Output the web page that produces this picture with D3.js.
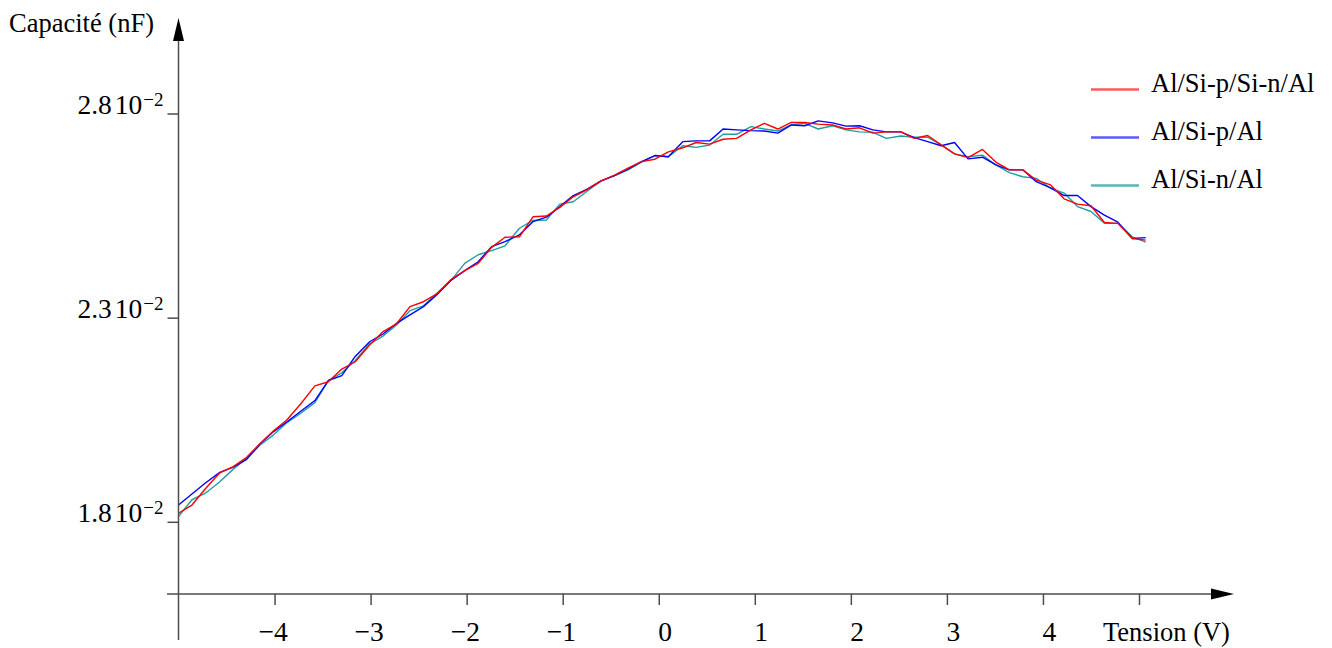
<!DOCTYPE html>
<html>
<head>
<meta charset="utf-8">
<script src="https://cdn.jsdelivr.net/npm/d3@7"></script>
<style>
  html, body { margin: 0; padding: 0; background: #fff; }
  svg { display: block; font-family: "Liberation Serif", "Times New Roman", serif; }
</style>
</head>
<body>
<svg id="chart" width="1332" height="648"></svg>
<script>
// Tension appliquée (V)
const tension = [-5.00,-4.86,-4.72,-4.57,-4.43,-4.29,-4.15,-4.01,-3.87,-3.72,
  -3.58,-3.44,-3.30,-3.16,-3.01,-2.87,-2.73,-2.59,-2.45,-2.31,
  -2.16,-2.02,-1.88,-1.74,-1.60,-1.45,-1.31,-1.17,-1.03,-0.89,
  -0.75,-0.60,-0.46,-0.32,-0.18,-0.04,0.10,0.25,0.39,0.53,
  0.67,0.81,0.96,1.10,1.24,1.38,1.52,1.66,1.81,1.95,
  2.09,2.23,2.37,2.52,2.66,2.80,2.94,3.08,3.22,3.37,
  3.51,3.65,3.79,3.93,4.08,4.22,4.36,4.50,4.64,4.78,
  4.93,5.07];

// Capacité mesurée, en unités de 10^-2 nF
const capaSiPSiN = [1.821,1.841,1.881,1.920,1.935,1.958,1.992,2.023,2.050,2.091,
  2.133,2.143,2.174,2.192,2.233,2.266,2.285,2.327,2.339,2.358,
  2.394,2.415,2.433,2.472,2.497,2.498,2.547,2.549,2.570,2.596,
  2.613,2.635,2.649,2.666,2.682,2.688,2.706,2.716,2.729,2.725,
  2.737,2.739,2.760,2.776,2.762,2.778,2.778,2.774,2.772,2.762,
  2.765,2.752,2.755,2.755,2.739,2.746,2.723,2.701,2.692,2.712,
  2.681,2.662,2.662,2.637,2.625,2.591,2.578,2.574,2.533,2.531,
  2.494,2.490];

const capaSiP = [1.841,1.868,1.895,1.921,1.934,1.953,1.991,2.021,2.045,2.072,
  2.097,2.146,2.158,2.205,2.241,2.260,2.286,2.307,2.327,2.356,
  2.392,2.415,2.437,2.474,2.486,2.503,2.535,2.546,2.572,2.599,
  2.614,2.635,2.648,2.664,2.682,2.697,2.694,2.731,2.733,2.733,
  2.762,2.760,2.758,2.757,2.752,2.772,2.770,2.782,2.777,2.769,
  2.770,2.760,2.755,2.755,2.741,2.731,2.721,2.729,2.689,2.693,
  2.674,2.662,2.662,2.633,2.618,2.599,2.599,2.572,2.551,2.534,
  2.494,2.496];

const capaSiN = [1.813,1.854,1.870,1.898,1.929,1.956,1.988,2.013,2.043,2.067,
  2.092,2.146,2.165,2.195,2.236,2.255,2.282,2.317,2.329,2.360,
  2.392,2.433,2.454,2.464,2.476,2.519,2.538,2.539,2.578,2.584,
  2.609,2.635,2.648,2.662,2.681,2.697,2.694,2.721,2.717,2.723,
  2.749,2.749,2.768,2.762,2.757,2.772,2.776,2.762,2.770,2.760,
  2.755,2.754,2.739,2.745,2.742,2.742,2.723,2.701,2.694,2.698,
  2.674,2.655,2.645,2.641,2.617,2.605,2.572,2.560,2.531,2.531,
  2.498,2.485];

const seriesNames = ["Al/Si-p/Si-n/Al", "Al/Si-p/Al", "Al/Si-n/Al"];
const xTicks = [-4, -3, -2, -1, 0, 1, 2, 3, 4, 5];
const xTickLabels = ["−4", "−3", "−2", "−1", "0", "1", "2", "3", "4", ""];
const yTicks = [1.8, 2.3, 2.8];
const yTickMantissas = ["1.8", "2.3", "2.8"];
const yExponent = "−2";

const svg = d3.select("#chart");
const axisColor = "#4d4d4d";
const fontSize = 26.5;
const tickFontSize = 27.5;

const x = d3.scaleLinear().domain([-5, 5]).range([178.5, 1139]);
const y = d3.scaleLinear().domain([1.8, 2.8]).range([521.8, 113.5]);

const x0 = x(-5);
const yAxisLevel = 594;

// Courbes
const series = [
  { name: seriesNames[2], values: capaSiN, color: "#1f9f9f" },
  { name: seriesNames[1], values: capaSiP, color: "#0000ff" },
  { name: seriesNames[0], values: capaSiPSiN, color: "#ff0000" }
];
const line = d3.line().x((d, i) => x(tension[i])).y(d => y(d));
svg.append("g").selectAll("path").data(series).join("path")
  .attr("d", s => line(s.values))
  .attr("fill", "none")
  .attr("stroke", s => s.color)
  .attr("stroke-width", 1.4)
  .attr("stroke-linejoin", "round");

// Axe des abscisses
const gx = svg.append("g").attr("transform", `translate(0,${yAxisLevel})`)
  .call(d3.axisBottom(x).tickValues(xTicks).tickSize(11)
    .tickFormat((d, i) => xTickLabels[i]))
  .attr("font-family", null)
  .attr("font-size", tickFontSize);
gx.select(".domain").remove();
gx.selectAll(".tick line").attr("stroke", axisColor).attr("stroke-width", 1.5);
gx.selectAll(".tick text")
  .attr("fill", "#000")
  .attr("text-anchor", "start")
  .attr("y", 47)
  .attr("dy", 0)
  .attr("x", d => d < 0 ? -16.5 : -1);

svg.append("line")
  .attr("x1", 167).attr("x2", 1213)
  .attr("y1", yAxisLevel).attr("y2", yAxisLevel)
  .attr("stroke", axisColor).attr("stroke-width", 1.5);
svg.append("path")
  .attr("d", `M1211,${yAxisLevel - 5.5}L1234,${yAxisLevel}L1211,${yAxisLevel + 5.5}Z`)
  .attr("fill", "#000");

svg.append("text")
  .attr("x", 1103).attr("y", 641)
  .attr("font-size", fontSize)
  .text("Tension (V)");

// Axe des ordonnées
const gy = svg.append("g").attr("transform", `translate(${x0},0)`)
  .call(d3.axisLeft(y).tickValues(yTicks).tickSize(11).tickFormat(""))
  .attr("font-family", null)
  .attr("font-size", tickFontSize);
gy.select(".domain").remove();
gy.selectAll(".tick line").attr("stroke", axisColor).attr("stroke-width", 1.5);
gy.selectAll(".tick text").remove();
gy.selectAll(".tick").each(function (d, i) {
  const t = d3.select(this).append("text")
    .attr("x", -15).attr("y", 0)
    .attr("text-anchor", "end")
    .attr("fill", "#000");
  t.append("tspan").text(yTickMantissas[i]);
  t.append("tspan").attr("dx", 3).text("10");
  t.append("tspan").attr("dy", -8).attr("dx", 1).attr("font-size", 19).text(yExponent);
});

svg.append("line")
  .attr("x1", x0).attr("x2", x0)
  .attr("y1", 640).attr("y2", 38)
  .attr("stroke", axisColor).attr("stroke-width", 1.5);
svg.append("path")
  .attr("d", `M${x0 - 5.5},41L${x0},18L${x0 + 5.5},41Z`)
  .attr("fill", "#000");

svg.append("text")
  .attr("x", 9).attr("y", 32)
  .attr("font-size", fontSize)
  .text("Capacité (nF)");

// Légende
const legendColors = ["#ff5a5a", "#5a5aff", "#5ab5b5"];
const legend = svg.append("g").attr("transform", "translate(1091,89.5)");
const item = legend.selectAll("g").data(seriesNames).join("g")
  .attr("transform", (d, i) => `translate(0,${i * 48})`);
item.append("line")
  .attr("x1", 0).attr("x2", 48)
  .attr("stroke", (d, i) => legendColors[i])
  .attr("stroke-width", 2.5);
item.append("text")
  .attr("x", 60).attr("y", 2)
  .attr("font-size", fontSize)
  .text(d => d);
</script>
</body>
</html>
